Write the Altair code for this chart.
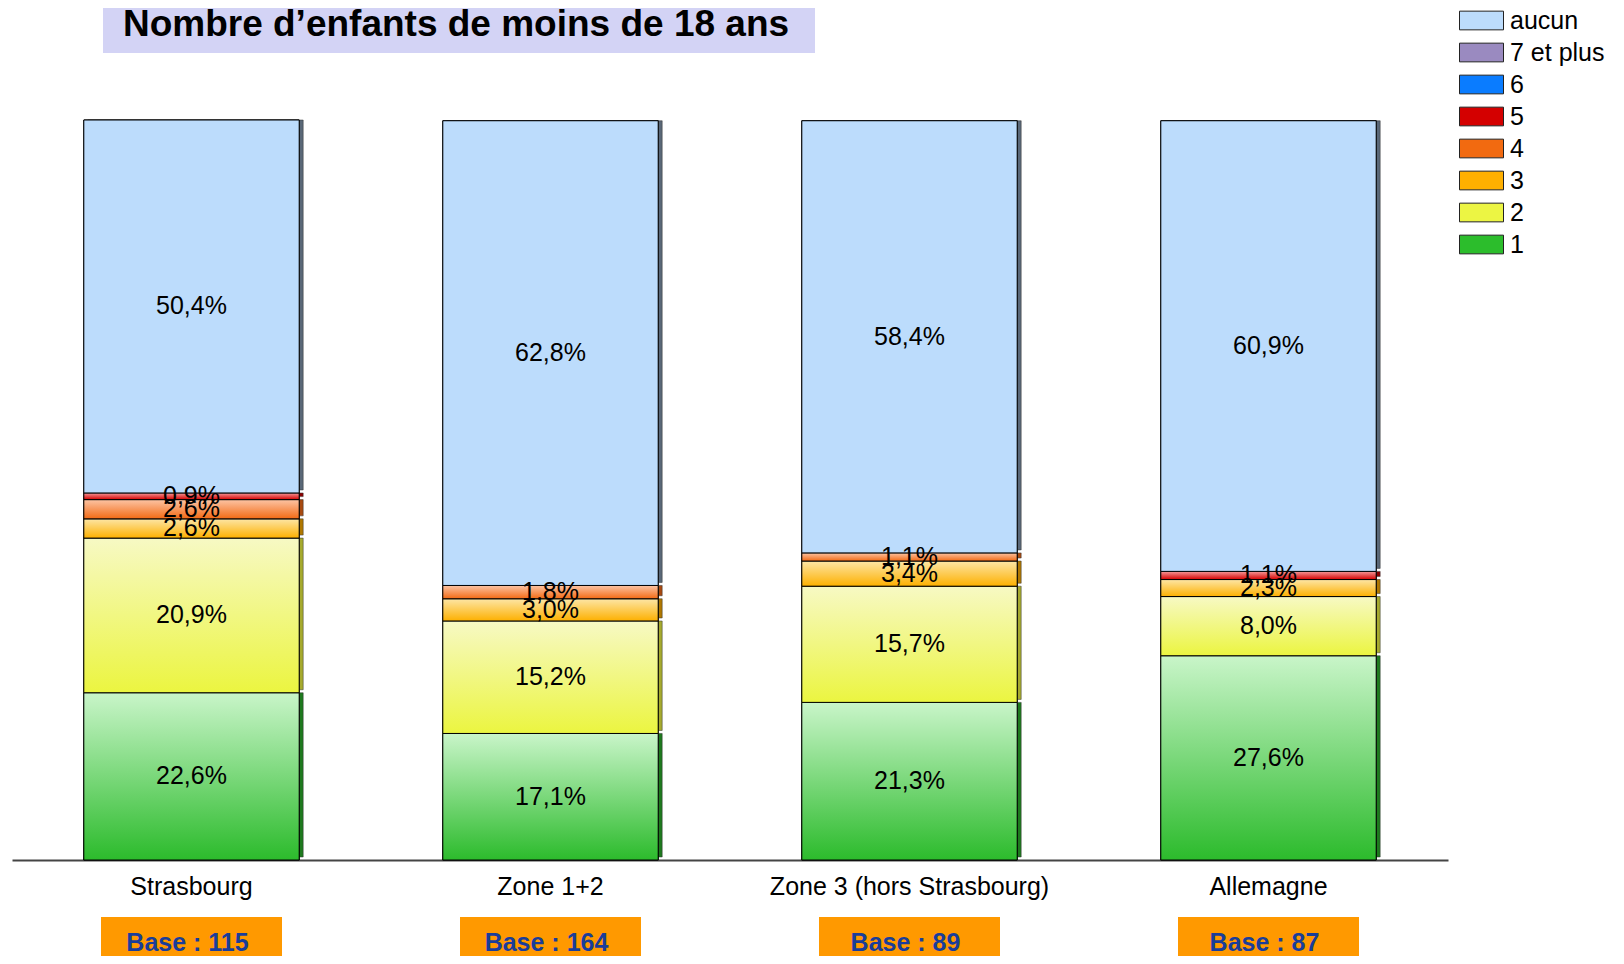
import altair as alt
import pandas as pd

# ---------------- data ----------------
zones = ["Strasbourg", "Zone 1+2", "Zone 3 (hors Strasbourg)", "Allemagne"]
bases = [115, 164, 89, 87]
legend_order = ["aucun", "7 et plus", "6", "5", "4", "3", "2", "1"]

v_1 = [22.6, 17.1, 21.3, 27.6]
v_2 = [20.9, 15.2, 15.7, 8.0]
v_3 = [2.6, 3.0, 3.4, 2.3]
v_4 = [2.6, 1.8, 1.1, None]
v_5 = [0.9, None, None, 1.1]
v_aucun = [50.4, 62.8, 58.4, 60.9]

title_text = "Nombre d\u2019enfants de moins de 18 ans"

# stacking order, bottom to top
series = [("1", v_1), ("2", v_2), ("3", v_3), ("4", v_4), ("5", v_5), ("aucun", v_aucun)]

rows = []
for order, (cat, vals) in enumerate(series):
    for z, v in zip(zones, vals):
        if v is None:
            continue
        rows.append({"zone": z, "cat": cat, "value": v, "order": order,
                     "label": f"{v:.1f}".replace(".", ",") + "%"})
df = pd.DataFrame(rows)
df_base = pd.DataFrame({"zone": zones, "base": [f"Base : {b}" for b in bases]})

# ---------------- styles ----------------
legend_colors = ["#bcdcfc", "#9a8ac0", "#0a7cff", "#d40000", "#f26a10", "#ffb000", "#ecf543", "#2cbd2c"]
grad = {
    "1": ("#c9f5c9", "#2cbb2c"),
    "2": ("#f7f9c4", "#ebf540"),
    "3": ("#fde6a6", "#fdb000"),
    "4": ("#fcc4a4", "#f36a14"),
    "5": ("#f59a9a", "#d40000"),
    "aucun": ("#bcdcfc", "#bcdcfc"),
}
side = {"1": "#1e7a1e", "2": "#a6aa2e", "3": "#b07800", "4": "#a84a10",
        "5": "#8a0000", "aucun": "#5a6878"}

FONT = "Liberation Sans"

x_enc = alt.X(
    "zone:N", sort=zones,
    scale=alt.Scale(paddingInner=0.4, paddingOuter=0.2),
    axis=alt.Axis(title=None, labelAngle=0, labelFontSize=25, labelFont=FONT,
                  labelColor="black", labelPadding=14, labelLimit=0, ticks=False,
                  domainColor="#444", domainWidth=2),
)
y_scale = alt.Scale(domain=[0, 100], nice=False, zero=True)

base = alt.Chart(df).transform_stack(
    stack="value", groupby=["zone"], as_=["y0", "y1"],
    sort=[alt.SortField(field="order", order="ascending")],
)

y_enc = alt.Y("y0:Q", scale=y_scale, axis=None)
y2_enc = alt.Y2("y1:Q")

layers = []

# 3D side faces
for cat, _ in series:
    layers.append(
        base.transform_filter(alt.datum.cat == cat)
        .mark_bar(color=side[cat], xOffset=4, yOffset=-3, stroke="#333", strokeWidth=0.5)
        .encode(x=x_enc, y=y_enc, y2=y2_enc)
    )

# flat layer carrying the legend
layers.append(
    base.mark_bar(stroke="black", strokeWidth=1).encode(
        x=x_enc, y=y_enc, y2=y2_enc,
        color=alt.Color(
            "cat:N",
            scale=alt.Scale(domain=legend_order, range=legend_colors),
            legend=alt.Legend(
                title=None, orient="none", legendX=1457, legendY=-112,
                symbolType="M-2,-0.85L2,-0.85L2,0.85L-2,0.85Z", symbolSize=484,
                symbolStrokeColor="#222", symbolStrokeWidth=1, symbolOpacity=1,
                labelFontSize=25, labelFont=FONT, labelColor="black",
                labelOffset=16, rowPadding=6, padding=0, labelLimit=0,
            ),
        ),
    )
)

# gradient faces
for cat, _ in series:
    top, bottom = grad[cat]
    g = alt.LinearGradient(
        gradient="linear", x1=0, x2=0, y1=0, y2=1,
        stops=[alt.GradientStop(color=top, offset=0), alt.GradientStop(color=bottom, offset=1)],
    )
    layers.append(
        base.transform_filter(alt.datum.cat == cat)
        .mark_bar(color=g, stroke="black", strokeWidth=1)
        .encode(x=x_enc, y=y_enc, y2=y2_enc)
    )

# value labels
layers.append(
    base.transform_calculate(mid="(datum.y0 + datum.y1) / 2")
    .mark_text(fontSize=25, font=FONT, color="black")
    .encode(x=x_enc, y=alt.Y("mid:Q", scale=y_scale, axis=None), text="label:N")
)

# Base boxes
box = alt.Chart(df_base)
layers.append(
    box.mark_bar(color="#ff9900", size=181).encode(
        x=x_enc, y=alt.value(797), y2=alt.value(840)
    )
)
layers.append(
    box.mark_text(fontSize=25, font=FONT, fontWeight="bold", color="#1a3d99", dx=-4).encode(
        x=x_enc, y=alt.value(823), text="base:N"
    )
)

# Title box + text
tdf = pd.DataFrame({"t": [title_text]})
layers.append(
    alt.Chart(tdf).mark_rect(color="#d3d3f5").encode(
        x=alt.value(91), x2=alt.value(803), y=alt.value(-112), y2=alt.value(-67)
    )
)
layers.append(
    alt.Chart(tdf).mark_text(fontSize=37, font=FONT, fontWeight="bold", color="black",
                             baseline="alphabetic").encode(
        x=alt.value(444), y=alt.value(-84), text="t:N"
    )
)

chart = alt.layer(*layers).properties(
    width=1436, height=740,
    padding={"left": 4, "top": 112, "right": 168, "bottom": 96},
    autosize=alt.AutoSizeParams(type="none"),
).configure_view(stroke=None)

chart.save("out.html", embed_options={"renderer": "svg", "actions": False})
